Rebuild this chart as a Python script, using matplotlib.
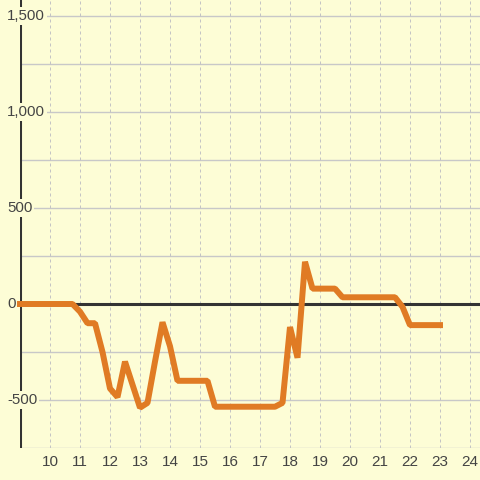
import numpy as np
import matplotlib
matplotlib.use('Agg')
import matplotlib.pyplot as plt

# hour of day vs value (15-minute steps)
hours = [9.0, 9.25, 9.5, 9.75, 10.0, 10.25, 10.5, 10.75,
         11.0, 11.25, 11.5, 11.75, 12.0, 12.25, 12.5, 12.75,
         13.0, 13.25, 13.5, 13.75, 14.0, 14.25, 14.5, 14.75,
         15.0, 15.25, 15.5, 15.75, 16.0, 16.25, 16.5, 16.75,
         17.0, 17.25, 17.5, 17.75, 18.0, 18.25, 18.5, 18.75,
         19.0, 19.25, 19.5, 19.75, 20.0, 20.25, 20.5, 20.75,
         21.0, 21.25, 21.5, 21.75, 22.0, 22.25, 22.5, 22.75, 23.0]
values = [0, 0, 0, 0, 0, 0, 0, 0,
          -40, -100, -100, -250, -440, -485, -300, -420,
          -540, -515, -300, -95, -220, -400, -400, -400,
          -400, -400, -535, -535, -535, -535, -535, -535,
          -535, -535, -535, -515, -120, -280, 220, 80,
          80, 80, 80, 35, 35, 35, 35, 35,
          35, 35, 35, -15, -110, -110, -110, -110, -110]
x_ticks = list(range(10, 25))
y_ticks = [-500, 0, 500, 1000, 1500]
y_grid = [-750, -500, -250, 0, 250, 500, 750, 1000, 1250, 1500]

bg = '#fdfdd6'
txt = '#444444'
plt.rcParams['font.family'] = ['Liberation Sans', 'DejaVu Sans']

fig = plt.figure(figsize=(4.8, 4.8), dpi=100, facecolor=bg)
ax = fig.add_axes([20/480, 32/480, 460/480, 448/480])
ax.set_facecolor(bg)
ax.set_xlim(9, 9 + 460/30)
ax.set_ylim(-750, -750 + 448*500/96)
for s in ax.spines.values():
    s.set_visible(False)

# grid
for g in y_grid:
    ax.axhline(g, color='#c8c8c8', lw=1.0, zorder=1)
for t in x_ticks:
    ax.axvline(t, color='#c4c4c4', lw=0.72, ls=(0, (3, 3)), zorder=1)

ax.axhline(0, color='#333333', lw=2.2, zorder=2)
ax.axvline(9, color='#333333', lw=2.2, zorder=2)

ax.plot(hours, values, color='#e07b24', lw=4.3, solid_capstyle='projecting',
        solid_joinstyle='bevel', zorder=5, clip_on=False)

ax.set_xticks(x_ticks)
ax.set_xticklabels([str(t) for t in x_ticks])
ax.tick_params(axis='x', length=0, pad=5, labelsize=11, labelcolor=txt)
ax.set_yticks([])

for v in y_ticks:
    ax.text(9 - 13/30, v, f'{v:,}', ha='left', va='center', fontsize=10.8,
            color=txt, zorder=4, clip_on=False,
            bbox=dict(facecolor=bg, edgecolor='none', pad=1.5))

fig.savefig('out.png', dpi=100, facecolor=bg)
